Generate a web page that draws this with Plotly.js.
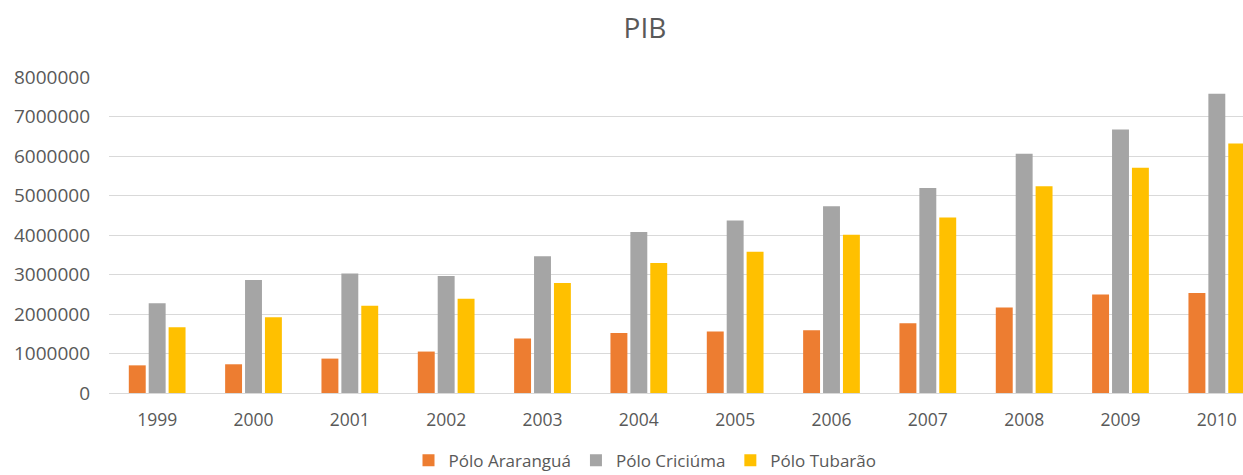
<!DOCTYPE html>
<html>
<head>
<meta charset="utf-8">
<script src="https://cdn.plot.ly/plotly-3.0.1.min.js"></script>
<style>
  html, body { margin: 0; padding: 0; overflow: hidden; background: #fff; }
  #chart { width: 1290px; height: 475px; }
</style>
</head>
<body>
<div id="chart"></div>
<script>
// PIB por pólo regional, 1999-2010
const anos = ['1999', '2000', '2001', '2002', '2003', '2004', '2005', '2006', '2007', '2008', '2009', '2010'];
const poloArarangua = [700000, 727000, 871000, 1049000, 1378000, 1522000, 1556000, 1590000, 1767000, 2165000, 2495000, 2529000];
const poloCriciuma = [2275000, 2858000, 3027000, 2960000, 3459000, 4076000, 4364000, 4727000, 5192000, 6055000, 6672000, 7577000];
const poloTubarao = [1666000, 1920000, 2207000, 2385000, 2782000, 3290000, 3577000, 4008000, 4440000, 5235000, 5700000, 6317000];
const yTicks = [0, 1000000, 2000000, 3000000, 4000000, 5000000, 6000000, 7000000, 8000000];

const fontFamily = '"Open Sans", "DejaVu Sans", sans-serif';

const traces = [
  { name: 'Pólo Araranguá', y: poloArarangua, color: '#ED7D31' },
  { name: 'Pólo Criciúma', y: poloCriciuma, color: '#A5A5A5' },
  { name: 'Pólo Tubarão', y: poloTubarao, color: '#FFC000' }
].map(s => ({
  type: 'bar',
  name: s.name,
  x: anos,
  y: s.y,
  marker: { color: s.color, line: { width: 0 } },
  hoverinfo: 'x+y+name'
}));

const layout = {
  width: 1290,
  height: 475,
  margin: { l: 109, r: 25, t: 77, b: 82 },
  paper_bgcolor: '#ffffff',
  plot_bgcolor: '#ffffff',
  font: { family: fontFamily, color: '#595959', size: 17 },
  title: {
    text: 'PIB',
    font: { family: fontFamily, size: 28, color: '#595959' },
    xref: 'container', x: 0.5, xanchor: 'center',
    yref: 'container', y: 0.941, yanchor: 'middle'
  },
  barmode: 'group',
  bargap: 0.38,
  bargroupgap: 0.15,
  xaxis: {
    type: 'category',
    showgrid: false,
    showline: false,
    zeroline: false,
    ticks: '',
    ticklabelstandoff: 14,
    tickfont: { family: fontFamily, size: 17.5, color: '#595959' }
  },
  yaxis: {
    range: [0, 8000000],
    tickvals: yTicks,
    ticktext: yTicks.map(v => String(v)),
    showgrid: true,
    gridcolor: '#d9d9d9',
    gridwidth: 1,
    zeroline: true,
    zerolinecolor: '#d9d9d9',
    zerolinewidth: 1,
    showline: false,
    ticks: '',
    ticklabelstandoff: 18,
    tickfont: { family: fontFamily, size: 19, color: '#595959' }
  },
  showlegend: true,
  legend: {
    orientation: 'h',
    xref: 'container', x: 0.5, xanchor: 'center',
    yref: 'container', y: 0.03, yanchor: 'middle',
    font: { family: fontFamily, size: 17, color: '#595959' },
    itemwidth: 30,
    traceorder: 'normal'
  }
};

Plotly.newPlot('chart', traces, layout, { displayModeBar: false, staticPlot: true });
</script>
</body>
</html>
